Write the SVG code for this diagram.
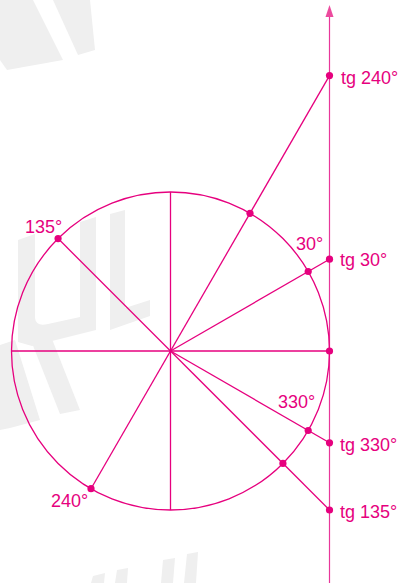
<svg xmlns="http://www.w3.org/2000/svg" width="402" height="583" viewBox="0 0 402 583">
<style>
.wm{fill:#efefef;stroke:none}
.ln{stroke:#e6007e;stroke-width:1.3;fill:none}
.ax{stroke:#e8379a;stroke-width:1.2;fill:none}
.dot{fill:#e6007e}
.lb{font-family:"Liberation Sans",Arial,sans-serif;font-size:18px;fill:#e6007e}
</style>
<rect width="402" height="583" fill="#ffffff"/>
<g id="watermark">
<polygon class="wm" points="0,0 33,0 63,60 7,70 0,60"/>
<polygon class="wm" points="53,0 90,0 95,50 78,55"/>
<path class="wm" d="M18,240 L35,234 L35,318 Q36,327 48,324 L80,317 L80,222 L96,217 L96,330 L32,346 L18,342 Z"/>
<path class="wm" d="M110,214 L125,210 L125,308 L150,300 L150,316 L110,330 Z"/>
<polygon class="wm" points="0,345 15,340 40,420 10,428 0,430"/>
<polygon class="wm" points="30,338 50,334 80,410 60,414"/>
<polygon class="wm" points="93,576 105,573 104,583 91,583"/>
<polygon class="wm" points="117,570 128,568 127,583 115,583"/>
<polygon class="wm" points="163,560 175,558 173,583 161,583"/>
<polygon class="wm" points="187,554 198,552 196,583 184,583"/>
</g>
<g id="connectors">
<line class="ax" x1="329.5" y1="583" x2="329.5" y2="16"/>
<polygon points="329.5,5 325.5,17 333.5,17" fill="#ec4a9e"/>
<line class="ln" x1="11.5" y1="351" x2="329.5" y2="351"/>
<line class="ln" x1="170.5" y1="192" x2="170.5" y2="510"/>
<line class="ln" x1="58.07" y1="238.57" x2="329.5" y2="510"/>
<line class="ln" x1="170.5" y1="351" x2="329.5" y2="259.2"/>
<line class="ln" x1="170.5" y1="351" x2="329.5" y2="442.8"/>
<line class="ln" x1="91" y1="488.7" x2="329.5" y2="75.6"/>
</g>
<g id="circle">
<circle class="ln" cx="170.5" cy="351" r="159"/>
</g>
<g id="points">
<circle class="dot" cx="58.07" cy="238.57" r="3.6"/>
<circle class="dot" cx="282.93" cy="463.43" r="3.6"/>
<circle class="dot" cx="329.5" cy="510" r="3.6"/>
<circle class="dot" cx="308.2" cy="271.5" r="3.6"/>
<circle class="dot" cx="329.5" cy="259.2" r="3.6"/>
<circle class="dot" cx="308.2" cy="430.5" r="3.6"/>
<circle class="dot" cx="329.5" cy="442.8" r="3.6"/>
<circle class="dot" cx="91" cy="488.7" r="3.6"/>
<circle class="dot" cx="250" cy="213.3" r="3.6"/>
<circle class="dot" cx="329.5" cy="75.6" r="3.6"/>
<circle class="dot" cx="329.5" cy="351" r="3.6"/>
</g>
<g id="labels">
<text class="lb" x="341" y="83.5">tg 240°</text>
<text class="lb" x="340" y="265.5">tg 30°</text>
<text class="lb" x="340" y="450.5">tg 330°</text>
<text class="lb" x="340" y="517.5">tg 135°</text>
<text class="lb" x="296" y="250">30°</text>
<text class="lb" x="278" y="407.5">330°</text>
<text class="lb" x="25" y="233">135°</text>
<text class="lb" x="51" y="507">240°</text>
</g>
</svg>
